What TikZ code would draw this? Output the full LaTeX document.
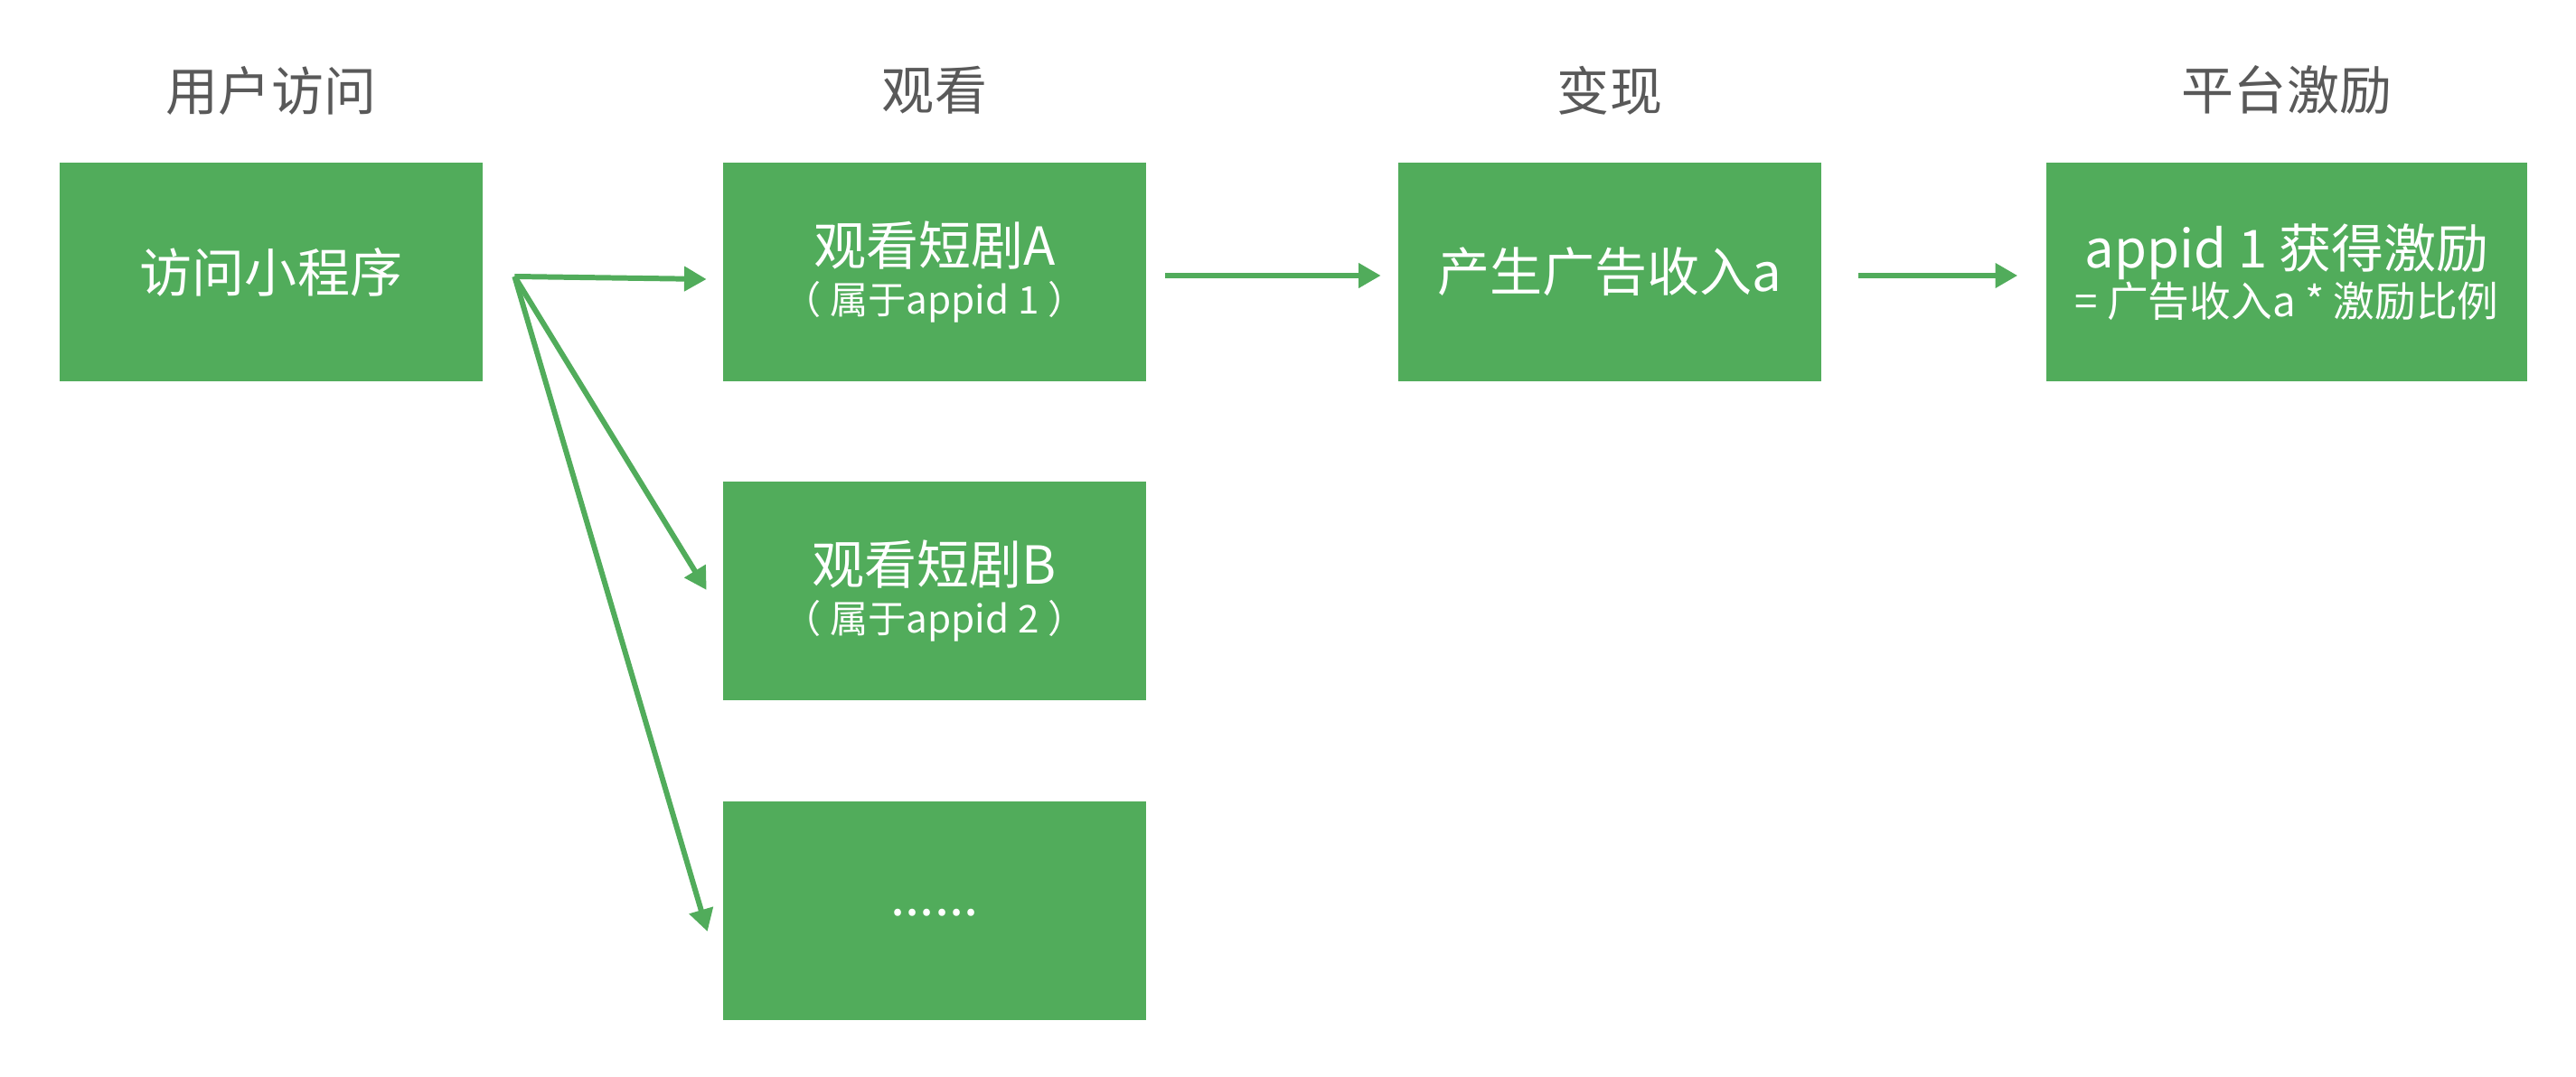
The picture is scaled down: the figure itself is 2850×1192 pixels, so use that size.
\documentclass[tikz,border=0pt]{standalone}
\usepackage{fontspec}
\setmainfont{Noto Sans CJK SC}
\usetikzlibrary{arrows.meta,calc}
\definecolor{boxgreen}{RGB}{81,172,91}
\definecolor{headgray}{RGB}{89,89,89}
\newcommand{\bigf}{\fontsize{16.5}{19.5}\selectfont}
\newcommand{\smallf}{\fontsize{12}{14}\selectfont}
\newcommand{\midf}{\fontsize{13}{15}\selectfont}
\begin{document}
\begin{tikzpicture}[x=0.01cm,y=-0.01cm,
  box/.style={fill=boxgreen,draw=none,minimum width=4.67cm,minimum height=2.42cm,
    inner sep=0pt,text=white,align=center,font=\bigf},
  head/.style={text=headgray,font=\bigf,inner sep=0pt},
  arr/.style={draw=boxgreen,line width=1.7pt,-{Triangle[length=7pt,width=7.5pt]}}]
\useasboundingbox (0,0) rectangle (2850,1192);
% headers
\node[head] (h1) at (300,100) {用户访问};
\node[head] (h2) at (1034,100) {观看};
\node[head] (h3) at (1781,100) {变现};
\node[head] (h4) at (2530,100) {平台激励};
% boxes
\node[box] (V) at (300,301) {访问小程序};
\node[box] (A) at (1034,301) {观看短剧A\\[-4pt]{\smallf （ 属于appid 1 ）}};
\node[box] (B) at (1034,654) {观看短剧B\\[-4pt]{\smallf （ 属于appid 2 ）}};
\node[box] (D) at (1034,1008) {\raisebox{-3.5pt}{......}};
\node[box] (C) at (1781,301) {产生广告收入a};
\node[box,minimum width=5.32cm] (P) at (2530,301) {appid 1 获得激励\\[-4pt]{\midf =\ 广告收入a * 激励比例}};
% connectors
\coordinate (fan) at ($(V.east)+(35,5)$);
\draw[arr] (fan) -- ($(A.west)+(-18,8)$);
\draw[arr] (fan) -- ($(B.west)+(-18,-1)$);
\draw[arr] (fan) -- ($(D.west)+(-17,23)$);
\draw[arr] ($(A.east)+(21,4)$) -- ($(C.west)+(-19,4)$);
\draw[arr] ($(C.east)+(41,4)$) -- ($(P.west)+(-31,4)$);
\end{tikzpicture}
\end{document}
